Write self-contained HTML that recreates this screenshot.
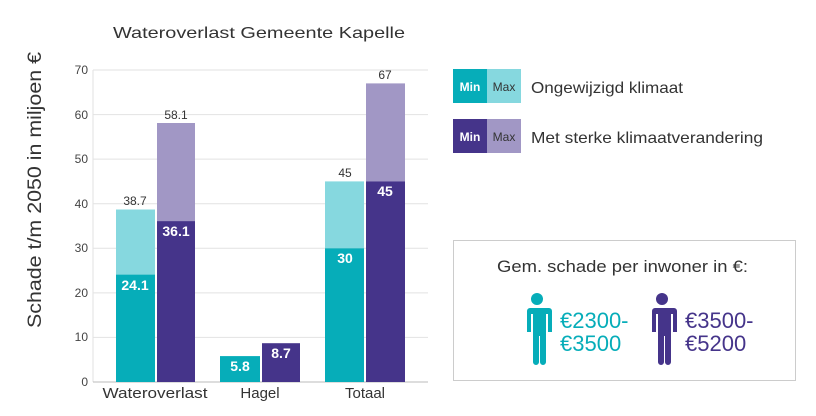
<!DOCTYPE html>
<html><head><meta charset="utf-8"><style>
body{margin:0;background:#fff;width:816px;height:411px;overflow:hidden}
svg text{font-family:"Liberation Sans",sans-serif}
</style></head><body>
<svg width="816" height="411" xmlns="http://www.w3.org/2000/svg">
<text x="113" y="38" font-size="16" textLength="292" lengthAdjust="spacingAndGlyphs" fill="#333">Wateroverlast Gemeente Kapelle</text>
<text transform="translate(41,190) rotate(-90)" font-size="19" text-anchor="middle" textLength="276" lengthAdjust="spacingAndGlyphs" fill="#333">Schade t/m 2050 in miljoen €</text>
<g stroke="#e2e2e2" stroke-width="1">
<line x1="93" x2="428" y1="70" y2="70"/><line x1="93" x2="428" y1="114.6" y2="114.6"/><line x1="93" x2="428" y1="159.1" y2="159.1"/><line x1="93" x2="428" y1="203.7" y2="203.7"/><line x1="93" x2="428" y1="248.3" y2="248.3"/><line x1="93" x2="428" y1="292.9" y2="292.9"/><line x1="93" x2="428" y1="337.4" y2="337.4"/>
<line x1="93" x2="93" y1="70" y2="382"/>
</g>
<line x1="93" x2="428" y1="382" y2="382" stroke="#bbb"/>
<g font-size="12" fill="#444" text-anchor="end">
<text x="88" y="74">70</text><text x="88" y="119">60</text><text x="88" y="163">50</text><text x="88" y="208">40</text><text x="88" y="252">30</text><text x="88" y="297">20</text><text x="88" y="341">10</text><text x="88" y="386">0</text>
</g>
<rect x="116" y="209.5" width="39" height="65.1" fill="#86d8df"/>
<rect x="116" y="274.6" width="39" height="107.4" fill="#06adb9"/>
<rect x="157" y="123" width="38" height="98.1" fill="#a197c5"/>
<rect x="157" y="221.1" width="38" height="160.9" fill="#45348a"/>
<rect x="220" y="356.1" width="40" height="25.9" fill="#06adb9"/>
<rect x="262" y="343.2" width="38" height="38.8" fill="#45348a"/>
<rect x="325" y="181.4" width="39" height="66.9" fill="#86d8df"/>
<rect x="325" y="248.3" width="39" height="133.7" fill="#06adb9"/>
<rect x="366" y="83.4" width="39" height="98" fill="#a197c5"/>
<rect x="366" y="181.4" width="39" height="200.6" fill="#45348a"/>
<g font-size="12" fill="#333" text-anchor="middle">
<text x="135" y="205">38.7</text><text x="176" y="119">58.1</text><text x="345" y="177">45</text><text x="385" y="79">67</text>
</g>
<g font-size="14" fill="#fff" font-weight="bold" text-anchor="middle">
<text x="135" y="290">24.1</text><text x="176" y="236">36.1</text><text x="240" y="371">5.8</text><text x="281" y="358">8.7</text><text x="345" y="263">30</text><text x="385" y="196">45</text>
</g>
<g font-size="15" fill="#333" text-anchor="middle">
<text x="155" y="398" textLength="105" lengthAdjust="spacingAndGlyphs">Wateroverlast</text><text x="260" y="398">Hagel</text><text x="365" y="398">Totaal</text>
</g>
<rect x="453" y="69" width="34" height="34" fill="#06adb9"/><rect x="487" y="69" width="34" height="34" fill="#86d8df"/>
<rect x="453" y="119" width="34" height="34" fill="#45348a"/><rect x="487" y="119" width="34" height="34" fill="#a197c5"/>
<g font-size="12" text-anchor="middle">
<text x="470" y="91" fill="#fff" font-weight="bold">Min</text><text x="504" y="91" fill="#333">Max</text>
<text x="470" y="141" fill="#fff" font-weight="bold">Min</text><text x="504" y="141" fill="#333">Max</text>
</g>
<g font-size="16" fill="#333">
<text x="531" y="93" textLength="152" lengthAdjust="spacingAndGlyphs">Ongewijzigd klimaat</text><text x="531" y="143" textLength="232" lengthAdjust="spacingAndGlyphs">Met sterke klimaatverandering</text>
</g>
<rect x="453.5" y="240.5" width="342" height="140" fill="#fff" stroke="#ccc"/>
<text x="497" y="272" font-size="17" fill="#333" textLength="251" lengthAdjust="spacingAndGlyphs">Gem. schade per inwoner in €:</text>
<g fill="#06adb9">
<circle cx="537" cy="299" r="6"/>
<path d="M525 308 h24 a3 3 0 0 1 3 3 v21 h-4 v-18 h-2 v48 a3 3 0 0 1 -6 0 v-26 h-1 v26 a3 3 0 0 1 -6 0 v-48 h-2 v18 h-4 v-21 a3 3 0 0 1 3 -3z"/>
</g>
<g fill="#45348a">
<circle cx="662" cy="299" r="6"/>
<path d="M650 308 h24 a3 3 0 0 1 3 3 v21 h-4 v-18 h-2 v48 a3 3 0 0 1 -6 0 v-26 h-1 v26 a3 3 0 0 1 -6 0 v-48 h-2 v18 h-4 v-21 a3 3 0 0 1 3 -3z"/>
</g>
<g font-size="22">
<text x="560" y="328" fill="#06adb9">€2300-</text><text x="560" y="351" fill="#06adb9">€3500</text>
<text x="685" y="328" fill="#45348a">€3500-</text><text x="685" y="351" fill="#45348a">€5200</text>
</g>
</svg>
</body></html>
